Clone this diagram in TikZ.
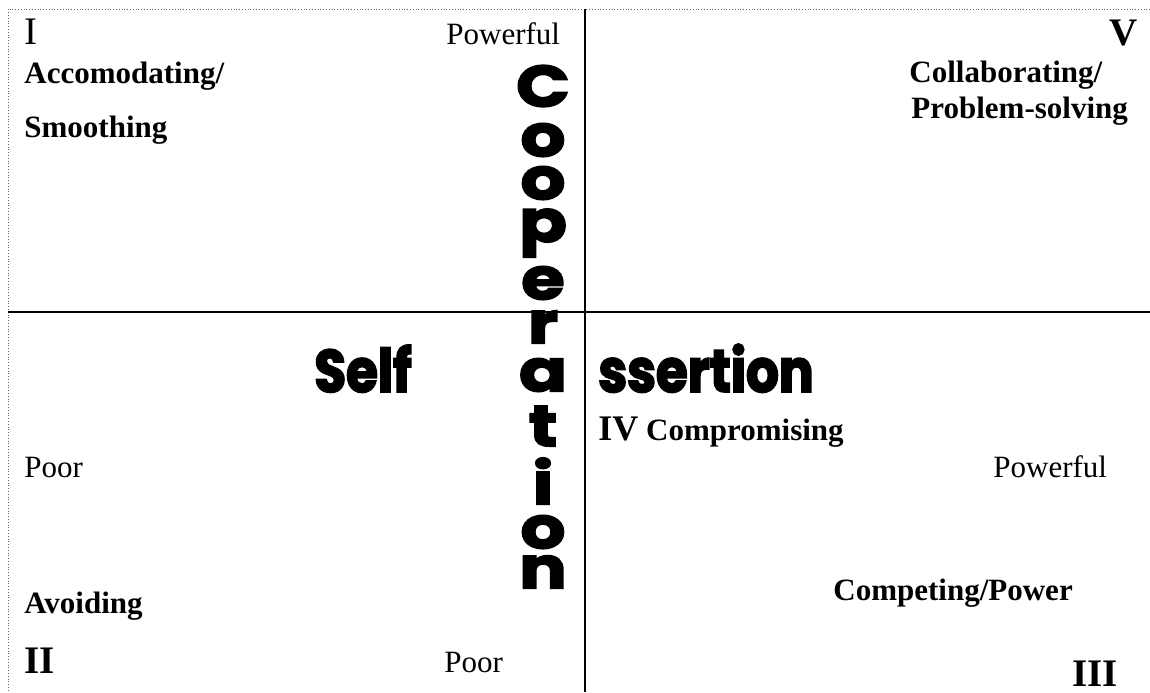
\documentclass[tikz,border=0pt]{standalone}
\usepackage{fontspec}
\setmainfont{Liberation Serif}
\newfontfamily\decofont{Poppins}[BoldFeatures={FakeBold=3}]
\newfontfamily\widedeco{Poppins}[BoldFeatures={FakeBold=3,FakeStretch=1.22}]
\newfontfamily\narrowdeco{Poppins}[BoldFeatures={FakeBold=3,FakeStretch=0.86}]
\usetikzlibrary{positioning}
\tikzset{x=0.5pt,y=-0.5pt,
txt/.style={anchor=base west,inner sep=0pt,font=\fontsize{15.5}{18}\selectfont},
bl/.style={txt,font=\fontsize{15.5}{18}\selectfont\bfseries},
num/.style={txt,font=\fontsize{19.5}{22}\selectfont},
bnum/.style={txt,font=\fontsize{19.5}{22}\selectfont\bfseries},
deco/.style={inner sep=0pt,font=\narrowdeco\bfseries\fontsize{30}{30}\selectfont},
letter/.style={inner sep=0pt,font=\widedeco\bfseries\fontsize{29}{29}\selectfont},
axis/.style={line width=1pt},
frame/.style={densely dotted,line width=0.4pt,black!60},
}

\begin{document}
\begin{tikzpicture}
\useasboundingbox (0,0) rectangle (1150,692);
\coordinate (tl) at (8,9);
\coordinate (tr) at (1150,9);
\coordinate (bl) at (8,692);
\coordinate (vtop) at (585,9);
\coordinate (vbot) at (585,692);
\coordinate (hleft) at (8,312);
\coordinate (hright) at (1150,312);

\draw[frame] (tr) -- (tl) -- (bl);
\draw[axis] (vtop) -- (vbot);
\draw[axis] (hleft) -- (hright);

% quadrant I
\node[num] (one) at (24,44) {I};
\node[txt] (pow1) at (446,44) {Powerful};
\node[bl] (accom) at (24,83) {Accomodating/};
\node[bl] (smooth) at (24,137) {Smoothing};
% quadrant V
\node[bnum,anchor=base east] (five) at (1138,45) {V};
\node[bl] (collab) at (909,82) {Collaborating/};
\node[bl] (probsolv) at (911,118) {Problem-solving};
% quadrant II
\node[txt] (poor1) at (24,477) {Poor};
\node[bl] (avoid) at (24,613) {Avoiding};
\node[bnum] (two) at (24,673) {II};
\node[txt] (poor2) at (444,672) {Poor};
% quadrants IV and III
\node[bl] (compro) at (598,440) {{\fontsize{18}{20}\selectfont IV} Compromising};
\node[txt] (pow2) at (993,477) {Powerful};
\node[bl] (compet) at (833,600) {Competing/Power};
\node[bnum,anchor=base east] (three) at (1118,686) {III};

% axis words
\node[deco,anchor=base west] (self) at (314,392) {Self};
\node[deco,anchor=base west] (assert) at (598,392) {ssertion};
\foreach \ch/\yy [count=\k] in {C/86,o/140,o/183,p/233,e/283,r/327,a/375,t/426,i/481,o/532,n/572}
  \node[letter] (coop\k) at (543,\yy) {\ch};
\end{tikzpicture}
\end{document}
